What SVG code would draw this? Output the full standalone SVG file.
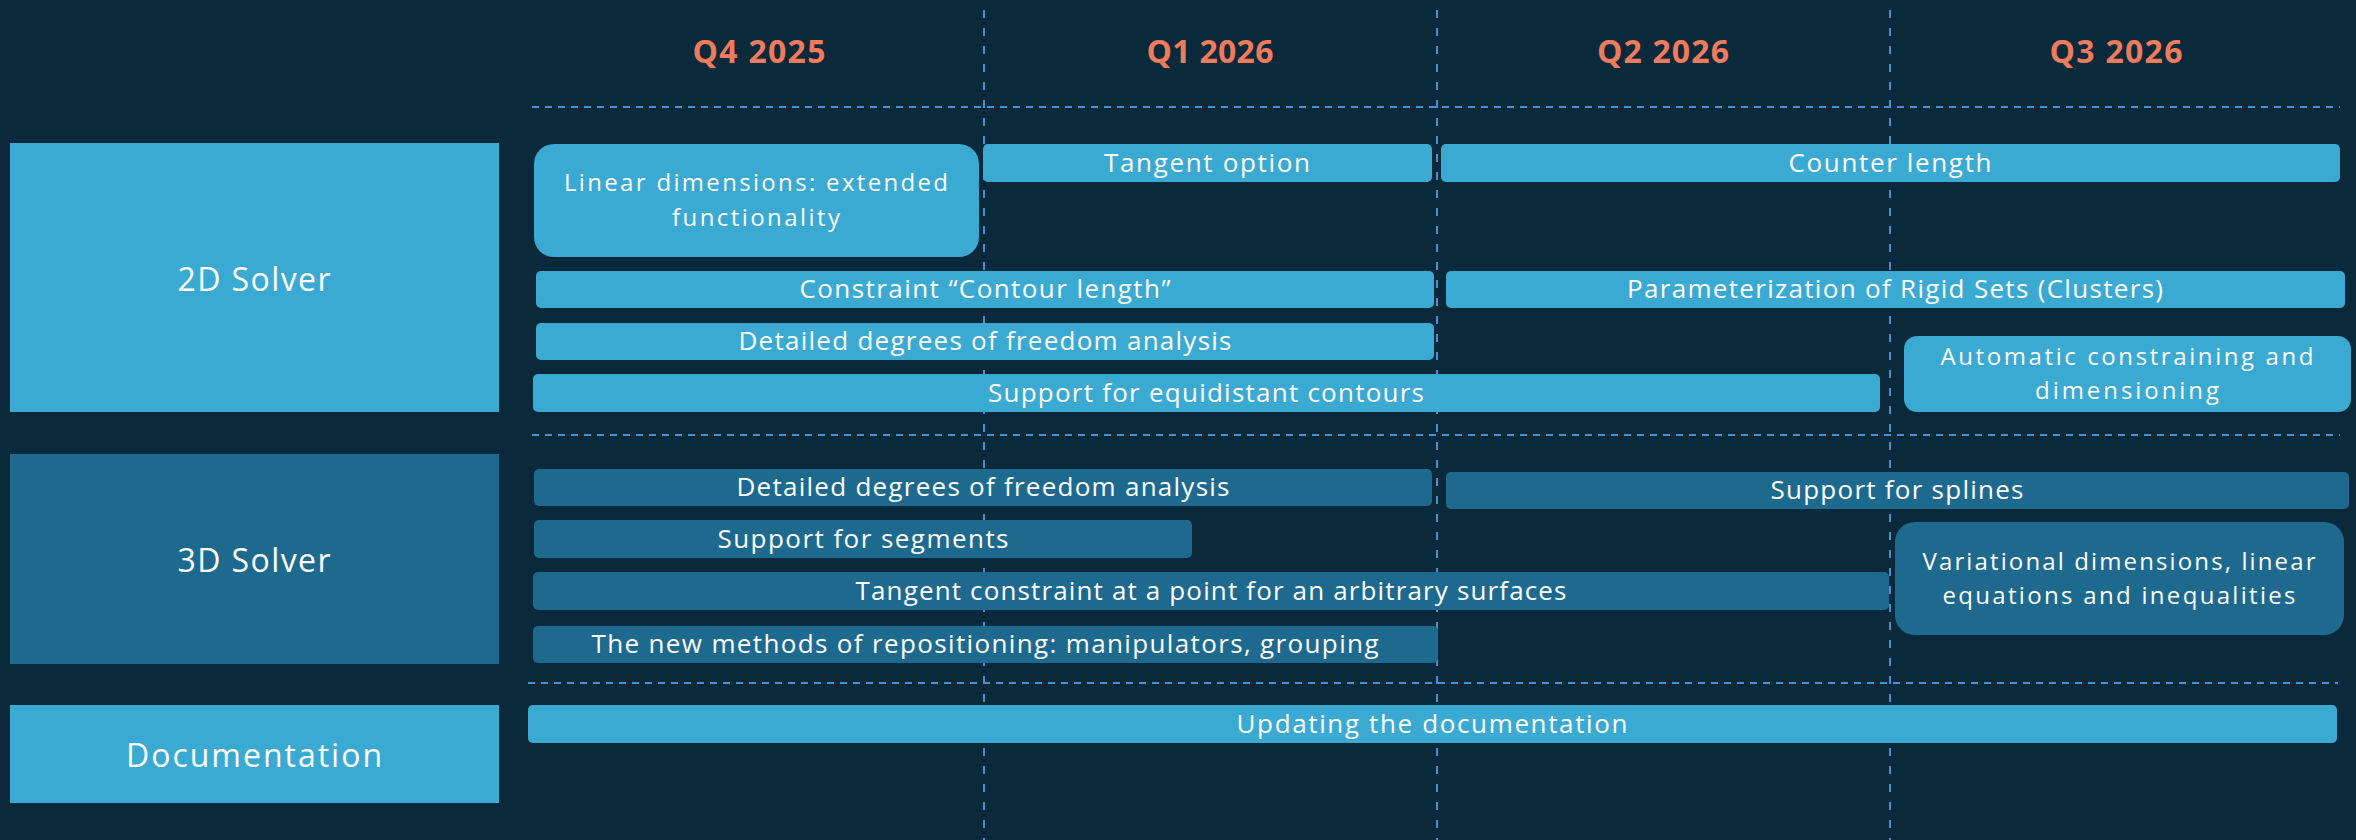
<svg xmlns="http://www.w3.org/2000/svg" width="2356" height="840" viewBox="0 0 2356 840">
<style>
.bg{fill:#0A293B}
.lt{fill:#3AAAD3}
.dk{fill:#1E6A8F}
.q{font-family:"Open Sans","Liberation Sans",sans-serif;font-weight:700;font-size:32px;fill:#EE7B5C;text-anchor:middle}
.cat{font-family:"Open Sans","Liberation Sans",sans-serif;font-size:32px;fill:#FFFFFF;text-anchor:middle;dominant-baseline:central}
.t{font-family:"Open Sans","Liberation Sans",sans-serif;font-size:26px;fill:#FFFFFF;text-anchor:middle}
.t2{font-family:"Open Sans","Liberation Sans",sans-serif;font-size:24px;fill:#FFFFFF;text-anchor:middle}
.vl{stroke:#4A8FD0;stroke-width:2;stroke-dasharray:8 10;fill:none}
.hl{stroke:#4A8FD0;stroke-width:2;stroke-dasharray:7 6;fill:none}
</style>
<rect class="bg" x="0" y="0" width="2356" height="840"/>
<g id="grid">
<line class="vl" x1="984" y1="10" x2="984" y2="840"/>
<line class="vl" x1="1437" y1="10" x2="1437" y2="840"/>
<line class="vl" x1="1890" y1="10" x2="1890" y2="840"/>
<line class="hl" x1="532" y1="107" x2="2340" y2="107"/>
<line class="hl" x1="532" y1="435" x2="2340" y2="435"/>
<line class="hl" x1="528" y1="683" x2="2338" y2="683"/>
</g>
<g id="quarters">
<text class="q" x="759" y="63" textLength="133" lengthAdjust="spacing">Q4 2025</text>
<text class="q" x="1210" y="63" textLength="127" lengthAdjust="spacing">Q1 2026</text>
<text class="q" x="1663" y="63" textLength="132" lengthAdjust="spacing">Q2 2026</text>
<text class="q" x="2116" y="63" textLength="133" lengthAdjust="spacing">Q3 2026</text>
</g>
<g id="cat-2d"><rect class="lt" x="10" y="143" width="489" height="269"/><text class="cat" x="254" y="278" textLength="153" lengthAdjust="spacing">2D Solver</text></g>
<g id="cat-3d"><rect class="dk" x="10" y="454" width="489" height="210"/><text class="cat" x="254" y="559" textLength="153" lengthAdjust="spacing">3D Solver</text></g>
<g id="cat-doc"><rect class="lt" x="10" y="705" width="489" height="98"/><text class="cat" x="254" y="754" textLength="256" lengthAdjust="spacing">Documentation</text></g>

<g id="linear-dim"><rect class="lt" x="534" y="144" width="445" height="113" rx="20"/><text class="t2" x="756" y="191" textLength="384" lengthAdjust="spacing">Linear dimensions: extended</text><text class="t2" x="756" y="226" textLength="168" lengthAdjust="spacing">functionality</text></g>
<g id="tangent-option"><rect class="lt" x="983" y="144" width="449" height="38" rx="5"/><text class="t" x="1207" y="172" textLength="206" lengthAdjust="spacing">Tangent option</text></g>
<g id="counter-length"><rect class="lt" x="1441" y="144" width="899" height="38" rx="5"/><text class="t" x="1890" y="172" textLength="203" lengthAdjust="spacing">Counter length</text></g>
<g id="contour-length"><rect class="lt" x="536" y="271" width="898" height="37" rx="5"/><text class="t" x="985" y="298" textLength="371" lengthAdjust="spacing">Constraint “Contour length”</text></g>
<g id="rigid-sets"><rect class="lt" x="1446" y="271" width="899" height="37" rx="5"/><text class="t" x="1895" y="298" textLength="536" lengthAdjust="spacing">Parameterization of Rigid Sets (Clusters)</text></g>
<g id="dof-2d"><rect class="lt" x="536" y="323" width="898" height="37" rx="5"/><text class="t" x="985" y="350" textLength="493" lengthAdjust="spacing">Detailed degrees of freedom analysis</text></g>
<g id="auto-constr"><rect class="lt" x="1904" y="336" width="447" height="76" rx="13"/><text class="t2" x="2127" y="365" textLength="373" lengthAdjust="spacing">Automatic constraining and</text><text class="t2" x="2127" y="399" textLength="184" lengthAdjust="spacing">dimensioning</text></g>
<g id="equidistant"><rect class="lt" x="533" y="374" width="1347" height="38" rx="5"/><text class="t" x="1206" y="402" textLength="436" lengthAdjust="spacing">Support for equidistant contours</text></g>

<g id="dof-3d"><rect class="dk" x="534" y="469" width="898" height="37" rx="5"/><text class="t" x="983" y="496" textLength="493" lengthAdjust="spacing">Detailed degrees of freedom analysis</text></g>
<g id="splines"><rect class="dk" x="1446" y="472" width="903" height="37" rx="5"/><text class="t" x="1897" y="499" textLength="253" lengthAdjust="spacing">Support for splines</text></g>
<g id="segments"><rect class="dk" x="534" y="520" width="658" height="38" rx="5"/><text class="t" x="863" y="548" textLength="291" lengthAdjust="spacing">Support for segments</text></g>
<g id="variational"><rect class="dk" x="1895" y="522" width="449" height="113" rx="20"/><text class="t2" x="2119" y="570" textLength="393" lengthAdjust="spacing">Variational dimensions, linear</text><text class="t2" x="2119" y="604" textLength="353" lengthAdjust="spacing">equations and inequalities</text></g>
<g id="tangent-surf"><rect class="dk" x="533" y="572" width="1356" height="38" rx="5"/><text class="t" x="1211" y="600" textLength="711" lengthAdjust="spacing">Tangent constraint at a point for an arbitrary surfaces</text></g>
<g id="repositioning"><rect class="dk" x="533" y="626" width="905" height="37" rx="5"/><text class="t" x="985" y="653" textLength="787" lengthAdjust="spacing">The new methods of repositioning: manipulators, grouping</text></g>

<g id="docs-update"><rect class="lt" x="528" y="705" width="1809" height="38" rx="5"/><text class="t" x="1432" y="733" textLength="391" lengthAdjust="spacing">Updating the documentation</text></g>
<g id="connectors"></g>
</svg>
